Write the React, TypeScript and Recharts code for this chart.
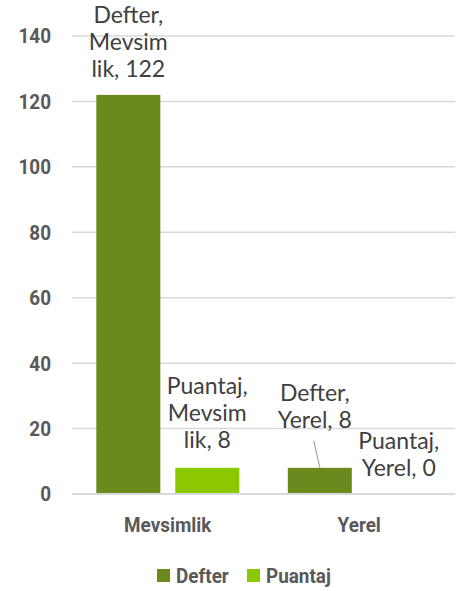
import React from 'react';
import { BarChart, Bar, XAxis, YAxis, CartesianGrid, LabelList, Legend } from 'recharts';

const categories = ['Mevsimlik', 'Yerel'];
const defterValues = [122, 8];
const puantajValues = [8, 0];
const yTicks = [0, 20, 40, 60, 80, 100, 120, 140];
const seriesNames = ['Defter', 'Puantaj'];
const categoryWrap: Record<string, string[]> = { Mevsimlik: ['Mevsim', 'lik'], Yerel: ['Yerel'] };

const colors: Record<string, string> = { Defter: '#6B8A1B', Puantaj: '#8BC800' };

const data = categories.map((c, i) => ({ category: c, Defter: defterValues[i], Puantaj: puantajValues[i] }));

const labelFont = "Lato, 'Open Sans', sans-serif";
const axisFont = "Roboto, 'DejaVu Sans Condensed', sans-serif";
const axisScale = 0.9;

const labelAdjust: Record<string, { dx: number; dy: number }[]> = {
  Defter: [{ dx: 0, dy: 0 }, { dx: -5, dy: 22 }],
  Puantaj: [{ dx: 0, dy: 2 }, { dx: 0, dy: 0 }],
};

const makeLabel = (series: string) => (props: any) => {
  const { x, y, width, height, index, value } = props;
  if (x == null || y == null) return null;
  const cat = categories[index];
  const frag = categoryWrap[cat];
  const lines = [`${series},`, ...frag.slice(0, -1), `${frag[frag.length - 1]}, ${value}`];
  const adj = labelAdjust[series][index];
  const bx = Number(x) + Number(width) / 2;
  const top = Number(value) === 0 ? Math.max(Number(y), Number(y) + Number(height || 0)) : Number(y);
  const cx = bx + adj.dx;
  const lastBase = top - 18 - adj.dy;
  const lh = 27;
  return (
    <g>
      {adj.dy > 5 && (
        <line x1={cx - 1} y1={lastBase + 13} x2={bx} y2={top} stroke="#a6a6a6" strokeWidth={1.2} />
      )}
      <text textAnchor="middle" fontFamily={labelFont} fontSize={23} fill="#404040">
        {lines.map((l, k) => (
          <tspan key={k} x={cx} y={lastBase - (lines.length - 1 - k) * lh}>
            {l}
          </tspan>
        ))}
      </text>
    </g>
  );
};

const AxisTick = (props: any) => {
  const { x, y, payload, textAnchor, vertical } = props;
  return (
    <text
      transform={`translate(${x},${y}) scale(${axisScale},1)`}
      x={0}
      y={0}
      dy={vertical ? '0.355em' : '0.71em'}
      textAnchor={textAnchor}
      fontFamily={axisFont}
      fontWeight={700}
      fontSize={21}
      fill="#595959"
    >
      {payload.value}
    </text>
  );
};

const legendItemX = [0, 90];

const LegendContent = () => (
  <svg width={220} height={26} style={{ display: 'block' }}>
    {seriesNames.map((s, i) => (
      <g key={s} transform={`translate(${legendItemX[i]},0)`}>
        <rect x={0} y={5} width={13} height={13} fill={colors[s]} />
        <text
          transform={`translate(19,0) scale(${axisScale},1)`}
          x={0}
          y={19}
          fontFamily={axisFont}
          fontWeight={700}
          fontSize={21}
          fill="#595959"
        >
          {s}
        </text>
      </g>
    ))}
  </svg>
);

const ZeroAwareBar = (props: any) => {
  const { x, y, width, height, fill, value } = props;
  const v = Array.isArray(value) ? value[1] - value[0] : value;
  if (!v) return <g />;
  return <rect x={x} y={y} width={width} height={height} fill={fill} />;
};

export default function App() {
  return (
    <div style={{ position: 'absolute', left: 0, top: 0, width: 456, height: 591, background: '#fff' }}>
      <BarChart
        width={456}
        height={591}
        data={data}
        margin={{ top: 36, right: 1, bottom: 37, left: 0 }}
        barCategoryGap="12.7%"
        barGap={15}
      >
        <CartesianGrid vertical={false} stroke="#d9d9d9" strokeWidth={1.5} />
        <XAxis
          dataKey="category"
          height={60}
          axisLine={{ stroke: '#d9d9d9', strokeWidth: 2 }}
          tickLine={false}
          tickMargin={17}
          tick={<AxisTick />}
        />
        <YAxis
          width={72}
          domain={[0, 140]}
          ticks={yTicks}
          axisLine={false}
          tickLine={false}
          tickMargin={15}
          tick={<AxisTick vertical />}
        />
        <Legend
          layout="horizontal"
          verticalAlign="middle"
          align="center"
          content={<LegendContent />}
          wrapperStyle={{ position: 'absolute', top: 564, left: 157, width: 'auto' }}
        />
        {seriesNames.map((s) => (
          <Bar
            key={s}
            dataKey={s}
            fill={colors[s]}
            minPointSize={1}
            shape={<ZeroAwareBar />}
            isAnimationActive={false}
          >
            <LabelList dataKey={s} content={makeLabel(s)} />
          </Bar>
        ))}
      </BarChart>
    </div>
  );
}
